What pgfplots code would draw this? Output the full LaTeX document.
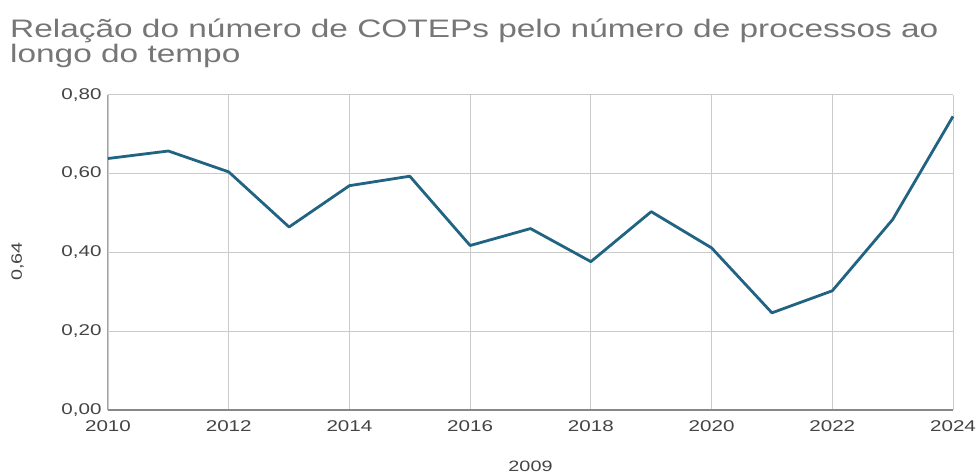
\documentclass[border=0pt]{standalone}
\usepackage{fontspec}
\setmainfont{Liberation Sans}[FakeStretch=1.32]
\usepackage{pgfplots}
\pgfplotsset{compat=1.18}
\definecolor{linecol}{HTML}{216383}
\definecolor{titlecol}{HTML}{767676}
\definecolor{labcol}{HTML}{444444}
\definecolor{gridcol}{HTML}{CACACA}
\definecolor{basecol}{HTML}{888888}
\begin{document}
\begin{tikzpicture}[x=1pt,y=1pt]
\useasboundingbox (-108,-64.3) rectangle (871,409.7);
\begin{axis}[
  at={(0,0)}, anchor=south west,
  scale only axis, width=845pt, height=315pt,
  xmin=2010, xmax=2024, ymin=0, ymax=0.8,
  xtick={2010,2012,...,2024},
  ytick={0,0.2,0.4,0.6,0.8},
  major tick length=0pt,
  grid=major,
  major grid style={draw=gridcol, line width=0.9pt},
  axis x line*=bottom, axis y line*=left,
  x axis line style={draw=basecol, line width=1.6pt},
  y axis line style={draw=gridcol!80!black, line width=1pt},
  tick label style={font=\fontsize{15.6}{16}\selectfont, text=labcol},
  /pgf/number format/assume math mode=true,
  x tick label style={/pgf/number format/1000 sep={}, yshift=-7pt},
  y tick label style={/pgf/number format/use comma, /pgf/number format/fixed, /pgf/number format/fixed zerofill, /pgf/number format/precision=2, xshift=-3pt},
  clip=false,
]
\addplot[linecol, line width=2.8pt, line join=round] coordinates {
 (2010,0.638) (2011,0.657) (2012,0.604) (2013,0.464) (2014,0.569)
 (2015,0.593) (2016,0.417) (2017,0.460) (2018,0.376) (2019,0.503)
 (2020,0.411) (2021,0.246) (2022,0.302) (2023,0.483) (2024,0.745)
};
\end{axis}
\node[anchor=base west, text=titlecol, inner sep=0pt, font=\fontsize{25.3}{26}\selectfont] at (-98,372) {Relação do número de COTEPs pelo número de processos ao};
\node[anchor=base west, text=titlecol, inner sep=0pt, font=\fontsize{25.3}{26}\selectfont] at (-98,347) {longo do tempo};
\node[rotate=90, text=labcol, inner sep=0pt, font=\fontsize{15}{16}\selectfont] at (-90.5,148) {0,64};
\node[text=labcol, inner sep=0pt, font=\fontsize{15}{16}\selectfont] at (422.5,-56.3) {2009};
\end{tikzpicture}
\end{document}
